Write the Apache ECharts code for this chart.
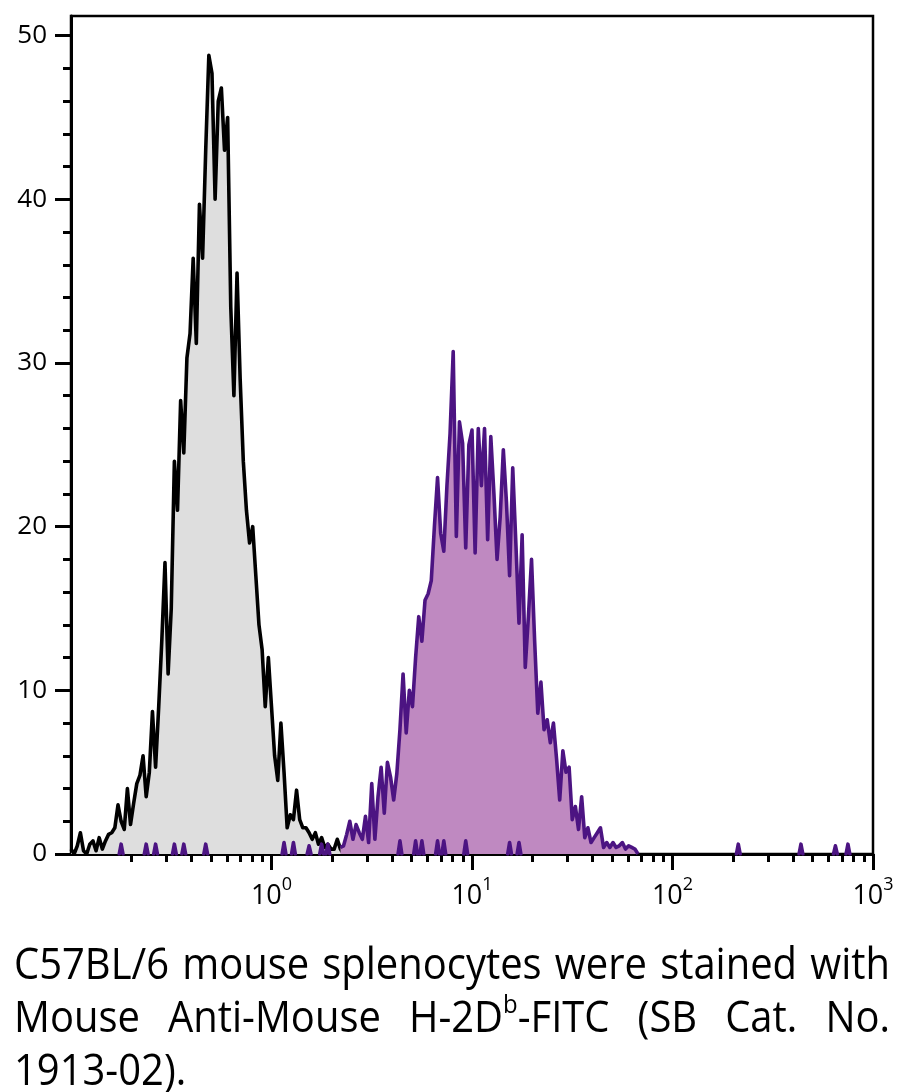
<!DOCTYPE html>
<html>
<head>
<meta charset="utf-8">
<script src="https://cdn.jsdelivr.net/npm/echarts@6/dist/echarts.min.js"></script>
<style>
  html, body { margin: 0; padding: 0; background: #fff; }
  #wrap { position: relative; width: 904px; height: 1092px; overflow: hidden; }
  #chart { position: absolute; left: 0; top: 0; width: 904px; height: 1092px; }
  #cap { position: absolute; left: 14px; top: 936px; font-family: 'Open Sans', sans-serif;
         font-size: 43px; line-height: 53px; color: #000; transform-origin: 0 0; }
  #cap .j { text-align: justify; text-align-last: justify; white-space: nowrap; }
  #cap sup { font-size: 60%; line-height: 0; vertical-align: 0.75em; }
  #measure { position: absolute; visibility: hidden; white-space: nowrap;
             font-family: 'Open Sans', sans-serif; font-size: 43px; }
</style>
</head>
<body>
<div id="wrap">
  <div id="chart"></div>
  <div id="cap">
    <div class="j" id="line1">C57BL/6 mouse splenocytes were stained with</div>
    <div class="j">Mouse Anti-Mouse H-2D<sup>b</sup>-FITC (SB Cat. No.</div>
    <div>1913-02).</div>
  </div>
  <span id="measure">C57BL/6 mouse splenocytes were stained with</span>
</div>
<script>
// ---- axis definition (log fluorescence, 64 channels per decade, 10^-1 .. 10^3) ----
const LOG_MIN = -1;
const LOG_MAX = 3;
const CH_PER_DECADE = 64;
const xLabelExps = [0, 1, 2, 3];
const minorMultipliers = [2, 3, 4, 5, 6, 7, 8, 9];
const minorDecades = [-1, 0, 1, 2];
const yLabels = [0, 10, 20, 30, 40, 50];
const yMinor = [2, 4, 6, 8, 12, 14, 16, 18, 22, 24, 26, 28, 32, 34, 36, 38, 42, 44, 46, 48];
const Y_MAX = 51.2;

// ---- histogram counts (per channel) ----
const BLACK_START = 0;
const blackCounts = [
  0.3, 0, 0.5, 1.3, 0.2, 0, 0.6, 0.8, 0.2, 1.0,
  0.3, 0.8, 1.2, 1.3, 1.6, 3.0, 2.0, 1.5, 4.0, 1.8,
  3.1, 4.3, 4.8, 6.0, 3.5, 5.0, 8.7, 5.3, 9.0, 13.1,
  17.8, 11, 15, 24, 21, 27.7, 24.5, 30.3, 31.8, 36.4,
  31.2, 39.7, 36.4, 43, 48.8, 47.7, 40, 46, 46.8, 43,
  45, 33.4, 28, 35.5, 29, 24, 21, 19, 20, 17,
  14, 12.5, 9, 12, 9, 6, 4.5, 8, 5, 1.6,
  2.4, 2.1, 3.9, 2.1, 1.6, 1.6, 1.3, 0.9, 1.3, 0.6,
  1.0, 0.4, 0.6, 0.3, 0.3, 0.9, 0.3, 0
];

const PURPLE_START = 86;
const purpleCounts = [
  0.4, 0.5, 1.2, 2.0, 0.9, 1.8, 1.3, 0.9, 2.3, 0.7,
  4.3, 0.9, 3.5, 5.3, 2.5, 5.6, 4.7, 3.3, 4.9, 7.6,
  11, 7.4, 10, 9.0, 12, 14.5, 13, 15.5, 15.9, 16.7,
  20, 23, 19.6, 18.5, 22.5, 25.7, 30.7, 19.4, 26.4, 25.1,
  18.7, 25, 25.9, 18.4, 26, 22.5, 26, 19.2, 25.5, 22,
  18, 20.6, 24.7, 21.5, 17, 23.6, 19, 14.1, 19.5, 11.4,
  14.5, 18, 13, 8.6, 10.5, 7.6, 8.2, 6.8, 8.0, 5.8,
  3.3, 6.3, 5, 5.3, 2.1, 2.9, 1.5, 3.5, 1.0, 1.6,
  0.7, 1.0, 1.3, 1.6, 0.4, 0.7, 0.4, 0.7, 0.4, 0.5,
  0.7, 0.3, 0.5, 0.4, 0.3, 0
];

// single-event channels of the stained sample lying outside / under the main peak
const purpleEventChannels = [16, 24, 27, 33, 36, 43, 68, 71, 76, 80, 82, 105, 110, 112, 117, 119, 126, 140, 143, 213, 233, 244, 248];
const purpleEventCounts   = [0.6, 0.6, 0.6, 0.6, 0.6, 0.6, 0.7, 0.7, 0.5, 0.6, 0.6, 0.8, 0.8, 0.8, 0.8, 0.8, 0.8, 0.7, 0.7, 0.6, 0.6, 0.5, 0.6];

// ---- colours ----
const BLACK = '#000000';
const GRAY_FILL = '#dedede';
const PURPLE_LINE = '#4c1482';
const PURPLE_FILL = '#bf89c1';
const FONT = "'Open Sans', sans-serif";
const LW = 3.6;

// ---- build ----
const toChannel = lg => (lg - LOG_MIN) * CH_PER_DECADE;
const X_MAX = toChannel(LOG_MAX);
const majorTicks = xLabelExps.map(toChannel);
const minorTicks = [];
minorDecades.forEach(d => minorMultipliers.forEach(m => minorTicks.push(toChannel(d + Math.log10(m)))));

const blackData = blackCounts.map((v, i) => [BLACK_START + i, v]);
const purpleData = purpleCounts.map((v, i) => [PURPLE_START + i, v]);
const eventData = [];
purpleEventChannels.forEach((c, i) => {
  eventData.push([c - 0.6, 0], [c, purpleEventCounts[i]], [c + 0.6, 0], [c + 0.6, '-']);
});

const chart = echarts.init(document.getElementById('chart'), null, { renderer: 'canvas' });
chart.setOption({
  animation: false,
  backgroundColor: '#fff',
  grid: { left: 71, right: 31, top: 16, bottom: 238, show: true, borderColor: BLACK, borderWidth: 2.5, backgroundColor: 'transparent' },
  xAxis: [
    {
      type: 'value', min: 0, max: X_MAX,
      axisLine: { show: true, onZero: false, lineStyle: { color: BLACK, width: 3 } },
      axisTick: { show: true, customValues: majorTicks, length: 16, lineStyle: { color: BLACK, width: 3 } },
      axisLabel: {
        show: true, customValues: majorTicks, margin: 22,
        formatter: v => '{b|10}{s|' + xLabelExps[majorTicks.indexOf(v)] + '}',
        rich: {
          b: { fontFamily: FONT, fontSize: 27, color: BLACK, lineHeight: 34, verticalAlign: 'bottom' },
          s: { fontFamily: FONT, fontSize: 18, color: BLACK, lineHeight: 34, verticalAlign: 'top' }
        }
      },
      splitLine: { show: false }
    },
    {
      type: 'value', min: 0, max: X_MAX, position: 'bottom', offset: 0,
      axisLine: { show: false },
      axisTick: { show: true, customValues: minorTicks, length: 8, lineStyle: { color: BLACK, width: 3 } },
      axisLabel: { show: false },
      splitLine: { show: false }
    }
  ],
  yAxis: [
    {
      type: 'value', min: 0, max: Y_MAX,
      axisLine: { show: true, onZero: false, lineStyle: { color: BLACK, width: 3 } },
      axisTick: { show: true, customValues: yLabels, length: 16, lineStyle: { color: BLACK, width: 3 } },
      axisLabel: { show: true, customValues: yLabels, margin: 24, fontFamily: FONT, fontSize: 26, color: BLACK },
      splitLine: { show: false }
    },
    {
      type: 'value', min: 0, max: Y_MAX, position: 'left', offset: 0,
      axisLine: { show: false },
      axisTick: { show: true, customValues: yMinor, length: 8, lineStyle: { color: BLACK, width: 3 } },
      axisLabel: { show: false },
      splitLine: { show: false }
    }
  ],
  series: [
    {
      type: 'line', xAxisIndex: 0, yAxisIndex: 0, data: blackData, symbol: 'none', z: 2,
      lineStyle: { color: BLACK, width: LW, join: 'round' },
      areaStyle: { color: GRAY_FILL, opacity: 1 }
    },
    {
      type: 'line', xAxisIndex: 0, yAxisIndex: 0, data: purpleData, symbol: 'none', z: 3,
      lineStyle: { color: PURPLE_LINE, width: LW, join: 'round' },
      areaStyle: { color: PURPLE_FILL, opacity: 1 }
    },
    {
      type: 'line', xAxisIndex: 0, yAxisIndex: 0, data: eventData, symbol: 'none', z: 4,
      connectNulls: false,
      lineStyle: { color: PURPLE_LINE, width: 3.6, join: 'round', cap: 'round' },
      areaStyle: { color: PURPLE_LINE, opacity: 1 }
    }
  ]
});

// caption: justify lines 1-2, compress horizontally to the reference width if needed
(function () {
  const target = 876;
  const w1 = document.getElementById('measure').getBoundingClientRect().width;
  const s = Math.min(1, (target - 14) / w1);
  const cap = document.getElementById('cap');
  cap.style.width = (target / s) + 'px';
  cap.style.transform = 'scaleX(' + s + ')';
})();
</script>
</body>
</html>
